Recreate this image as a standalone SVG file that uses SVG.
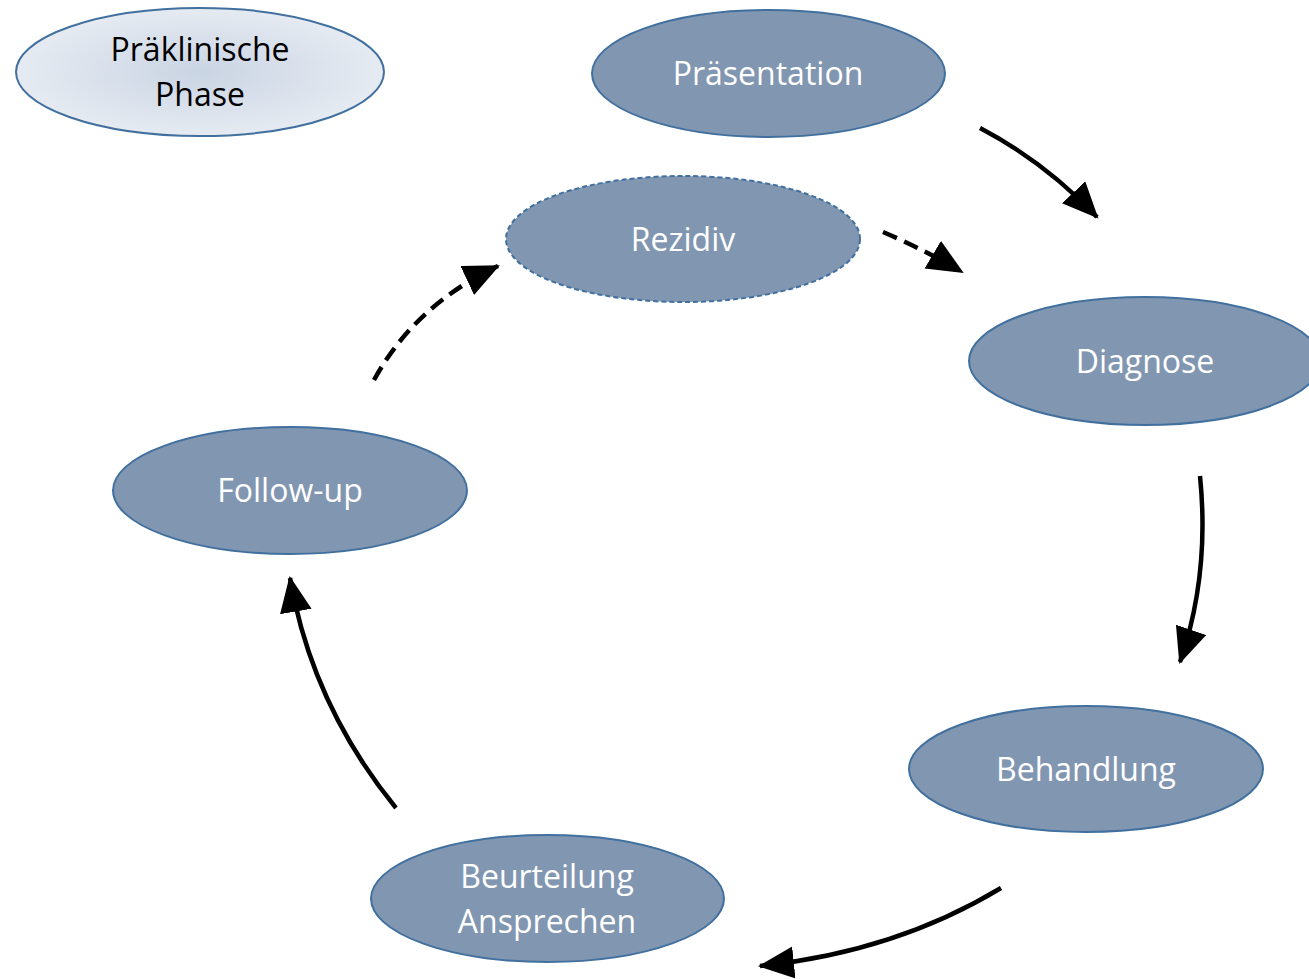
<svg xmlns="http://www.w3.org/2000/svg" width="1309" height="979" viewBox="0 0 1309 979">
<style>
.node{fill:#8196B1;stroke:#41709F;stroke-width:2}
.lbl{font-family:"Open Sans","Noto Sans",sans-serif;font-size:32px;fill:#fff;text-anchor:middle}
.dark{fill:#000}
.con{fill:none;stroke:#000;stroke-width:4.5}
.dash{stroke-dasharray:15 8}
</style>
<defs>
<radialGradient id="g1" cx="0.5" cy="0.5" r="0.5">
<stop offset="0" stop-color="#C9D4E3"/>
<stop offset="1" stop-color="#E6EBF2"/>
</radialGradient>
<marker id="ah" markerUnits="userSpaceOnUse" markerWidth="40" markerHeight="34" refX="34" refY="16" orient="auto">
<path d="M0,0 L36,16 L0,32 Z" fill="#000"/>
</marker>
</defs>
<g id="connectors">
<path class="con" d="M980,128 Q1045,162 1097,217" marker-end="url(#ah)"/>
<path class="con dash" d="M883,232 Q925,250 962,272" marker-end="url(#ah)"/>
<path class="con" d="M1200,476 Q1210,575 1180,662" marker-end="url(#ah)"/>
<path class="con" d="M1001,888 Q895,952 760,966" marker-end="url(#ah)"/>
<path class="con" d="M396,808 Q312,705 290,578" marker-end="url(#ah)"/>
<path class="con dash" d="M374,380 Q415,305 498,266" marker-end="url(#ah)"/>
</g>
<g id="praeklinisch">
<ellipse cx="200" cy="72" rx="184" ry="64" fill="url(#g1)" stroke="#41709F" stroke-width="2"/>
<text class="lbl dark" x="200" y="61">Präklinische</text>
<text class="lbl dark" x="200" y="106">Phase</text>
</g>
<g id="praesentation">
<ellipse class="node" cx="768.5" cy="73.5" rx="176.5" ry="63.5"/>
<text class="lbl" x="768" y="85">Präsentation</text>
</g>
<g id="rezidiv">
<ellipse class="node" cx="683" cy="239" rx="177" ry="63" stroke-dasharray="5 3"/>
<text class="lbl" x="683" y="251">Rezidiv</text>
</g>
<g id="diagnose">
<ellipse class="node" cx="1145" cy="361" rx="176" ry="64"/>
<text class="lbl" x="1145" y="373">Diagnose</text>
</g>
<g id="behandlung">
<ellipse class="node" cx="1086" cy="769" rx="177" ry="63"/>
<text class="lbl" x="1086" y="781">Behandlung</text>
</g>
<g id="beurteilung">
<ellipse class="node" cx="547.5" cy="898.5" rx="176.5" ry="63.5"/>
<text class="lbl" x="547" y="888">Beurteilung</text>
<text class="lbl" x="547" y="933">Ansprechen</text>
</g>
<g id="followup">
<ellipse class="node" cx="290" cy="490.5" rx="177" ry="63.5"/>
<text class="lbl" x="290" y="502">Follow-up</text>
</g>
</svg>
